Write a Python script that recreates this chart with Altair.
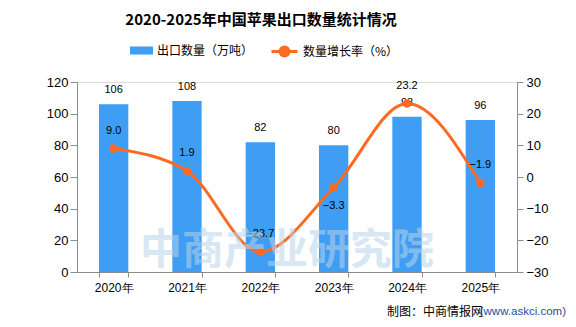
import altair as alt
import pandas as pd

years = ["2020年", "2021年", "2022年", "2023年", "2024年", "2025年"]
export_volume = [106, 108, 82, 80, 98, 96]
growth_rate = [9.0, 1.9, -23.7, -3.3, 23.2, -1.9]
left_ticks = [0, 20, 40, 60, 80, 100, 120]
right_ticks = [-30, -20, -10, 0, 10, 20, 30]

bar_name = "出口数量（万吨）"
line_name = "数量增长率（%）"
title_text = "2020-2025年中国苹果出口数量统计情况"
footer_black = "制图：中商情报网"
footer_blue = "(www.askci.com)"
watermark = "中商产业研究院"

df = pd.DataFrame({"year": years, "export": export_volume, "growth": growth_rate})

BLUE = "#3f9ef3"
ORANGE = "#ff6a22"
AXIS_GRAY = "#8c8c8c"
W, H = 440, 190

x_enc = alt.X("year:N", sort=years, title="",
              scale=alt.Scale(paddingInner=0.6, paddingOuter=0.3),
              axis=alt.Axis(labelAngle=0, tickBand="extent", labelFontSize=12,
                            labelFont="Liberation Sans", labelColor="#000",
                            domainColor=AXIS_GRAY, tickColor=AXIS_GRAY, tickSize=5,
                            labelPadding=5))

y_left = alt.Y("export:Q", title="", scale=alt.Scale(domain=[0, 120], nice=False),
               axis=alt.Axis(values=left_ticks, tickCount=7, grid=False,
                             labelOverlap=False,
                             labelFontSize=13, labelFont="Liberation Sans", labelColor="#000",
                             domainColor=AXIS_GRAY, tickColor=AXIS_GRAY, tickSize=7,
                             labelPadding=2))

y_right = alt.Y("growth:Q", title="", scale=alt.Scale(domain=[-30, 30], nice=False),
                axis=alt.Axis(orient="right", values=right_ticks, tickCount=7, grid=False,
                              labelOverlap=False,
                              labelFontSize=13, labelFont="Liberation Sans", labelColor="#000",
                              domainColor=AXIS_GRAY, tickColor=AXIS_GRAY, tickSize=6,
                              labelPadding=3))

base = alt.Chart(df)

bars = base.mark_bar(color=BLUE).transform_calculate(s=f"'{bar_name}'").encode(
    x=x_enc,
    y=y_left,
    color=alt.Color("s:N", scale=alt.Scale(range=[BLUE]),
                    legend=alt.Legend(title=None, orient="none", legendX=53, legendY=-43,
                                      symbolType="M-1,-0.35H1V0.35H-1Z", symbolSize=529,
                                      labelFontSize=12, labelFont="Noto Sans CJK SC",
                                      labelColor="#000", symbolStrokeWidth=0,
                                      symbolOpacity=1)),
)

bar_text = base.mark_text(dy=-14, fontSize=11, font="Liberation Sans", color="#000").encode(
    x=x_enc,
    y=y_left,
    text=alt.Text("export:Q", format="d"),
)

left = alt.layer(bars, bar_text)

line = base.mark_line(interpolate="monotone", strokeWidth=3).transform_calculate(
    s=f"'{line_name}'").encode(
    x=x_enc,
    y=y_right,
    color=alt.Color("s:N", scale=alt.Scale(range=[ORANGE]),
                    legend=alt.Legend(title=None, orient="none", legendX=193, legendY=-45,
                                      symbolType="M-1,0H1M0.34,0A0.34,0.34 0 1 1 -0.34,0A0.34,0.34 0 1 1 0.34,0Z",
                                      symbolSize=676, symbolStrokeWidth=3,
                                      symbolFillColor=ORANGE, symbolStrokeColor=ORANGE,
                                      labelFontSize=12, labelFont="Noto Sans CJK SC",
                                      labelColor="#000")),
)

points = base.mark_point(filled=True, size=70, color=ORANGE, opacity=1).encode(
    x=x_enc,
    y=y_right,
)

line_text_up = base.transform_filter(alt.datum.year != "2023年").mark_text(
    dy=-18, fontSize=11, font="Liberation Sans", color="#000").encode(
    x=x_enc,
    y=y_right,
    text=alt.Text("growth:Q", format=".1f"),
)
line_text_down = base.transform_filter(alt.datum.year == "2023年").mark_text(
    dy=19, fontSize=11, font="Liberation Sans", color="#000").encode(
    x=x_enc,
    y=y_right,
    text=alt.Text("growth:Q", format=".1f"),
)

right = alt.layer(line, points, line_text_up, line_text_down)

deco = pd.DataFrame({"t": [watermark]})
wm = alt.Chart(deco).mark_text(fontSize=42, font="Noto Sans CJK SC", fontWeight="bold",
                               color="#b8d4ea", opacity=0.55).encode(
    x=alt.value(210), y=alt.value(169), text="t:N")

foot1 = alt.Chart(pd.DataFrame({"t": [footer_black]})).mark_text(
    align="right", fontSize=12, font="Noto Sans CJK SC", color="#000").encode(
    x=alt.value(406), y=alt.value(230), text="t:N")
foot2 = alt.Chart(pd.DataFrame({"t": [footer_blue]})).mark_text(
    align="right", fontSize=11.5, font="Liberation Sans", color="#1f4e9c").encode(
    x=alt.value(489), y=alt.value(230), text="t:N")

chart = alt.layer(left, right, wm, foot1, foot2).resolve_scale(
    y="independent", color="independent"
).properties(
    width=W, height=H,
    title=alt.TitleParams(title_text, fontSize=15, fontWeight="bold", font="Noto Sans CJK SC",
                          color="#000", anchor="middle", frame="group", dx=-36, offset=9),
    autosize=alt.AutoSizeParams(type="none"),
    padding={"left": 77, "top": 82, "right": 59, "bottom": 55},
).configure_view(stroke=None).configure(background="white")

chart.save("out.html", embed_options={"renderer": "svg", "actions": False})
